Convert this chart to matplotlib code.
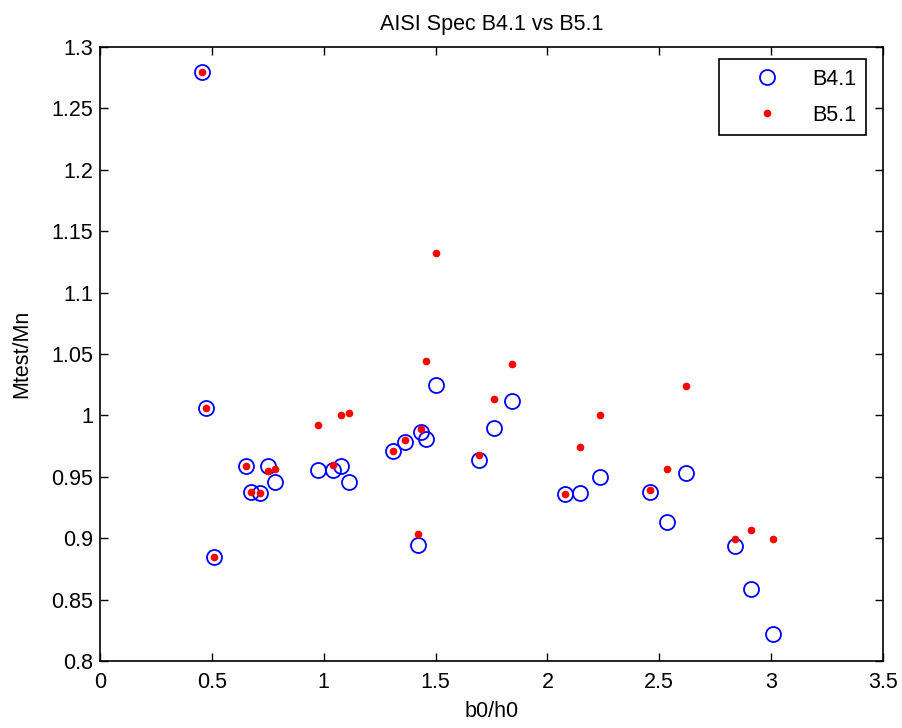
import matplotlib
matplotlib.use("Agg")
import matplotlib.pyplot as plt

plt.rcParams['font.family'] = ['Liberation Sans', 'DejaVu Sans']

# b0/h0 values (shared by both specs)
b0_h0 = [0.454, 0.473, 0.508, 0.651, 0.677, 0.717, 0.750, 0.784, 0.975, 1.042,
         1.078, 1.115, 1.308, 1.363, 1.420, 1.435, 1.456, 1.500, 1.693, 1.759,
         1.841, 2.080, 2.147, 2.233, 2.459, 2.533, 2.621, 2.840, 2.911, 3.008]

# Mtest/Mn for AISI spec B4.1
m_b41 = [1.280, 1.006, 0.8845, 0.959, 0.938, 0.937, 0.959, 0.9456, 0.9557, 0.9557,
         0.959, 0.9456, 0.971, 0.978, 0.8943, 0.9867, 0.9804, 1.0247, 0.964, 0.9894,
         1.0114, 0.936, 0.9367, 0.9497, 0.938, 0.913, 0.953, 0.894, 0.8587, 0.822]

# Mtest/Mn for AISI spec B5.1
m_b51 = [1.280, 1.006, 0.8845, 0.959, 0.938, 0.937, 0.955, 0.9565, 0.992, 0.9595,
         1.0005, 1.002, 0.971, 0.980, 0.9038, 0.9886, 1.0446, 1.1323, 0.968, 1.0136,
         1.0416, 0.936, 0.974, 1.0005, 0.939, 0.9565, 1.0239, 0.899, 0.9065, 0.899]

xticks = [0, 0.5, 1, 1.5, 2, 2.5, 3, 3.5]
xtick_labels = ['0', '0.5', '1', '1.5', '2', '2.5', '3', '3.5']
yticks = [0.8, 0.85, 0.9, 0.95, 1.0, 1.05, 1.1, 1.15, 1.2, 1.25, 1.3]
ytick_labels = ['0.8', '0.85', '0.9', '0.95', '1', '1.05', '1.1', '1.15',
                '1.2', '1.25', '1.3']

FS = 15.5

fig = plt.figure(figsize=(9.02, 7.28), dpi=100)
ax = fig.add_axes([0.1109, 0.092, 0.868, 0.8434])

ax.plot(b0_h0, m_b41, 'o', color='blue', markerfacecolor='none',
        markersize=10.8, markeredgewidth=1.3, label='B4.1')
ax.plot(b0_h0, m_b51, '.', color='red', markersize=9, label='B5.1')

ax.set_xlim(0, 3.5)
ax.set_ylim(0.8, 1.3)
ax.set_xticks(xticks)
ax.set_xticklabels(xtick_labels)
ax.set_yticks(yticks)
ax.set_yticklabels(ytick_labels)
ax.tick_params(direction='in', top=True, right=True, length=6, width=1,
               labelsize=FS)
ax.tick_params(axis='x', pad=8)
ax.tick_params(axis='y', pad=5)
for sp in ax.spines.values():
    sp.set_linewidth(1.2)

ax.set_title('AISI Spec B4.1 vs B5.1', fontsize=FS, pad=12)
ax.set_xlabel('b0/h0', fontsize=FS, labelpad=6)
ax.set_ylabel('Mtest/Mn', fontsize=FS, labelpad=14)

leg = ax.legend(loc='upper right', fontsize=FS, fancybox=False, framealpha=1,
                edgecolor='black', borderpad=0.45, handletextpad=0.3,
                handlelength=3.6, labelspacing=0.7, borderaxespad=0,
                bbox_to_anchor=(0.9783, 0.9805))
leg.get_frame().set_linewidth(1.2)

plt.savefig('out.png', dpi=100)
plt.close(fig)
